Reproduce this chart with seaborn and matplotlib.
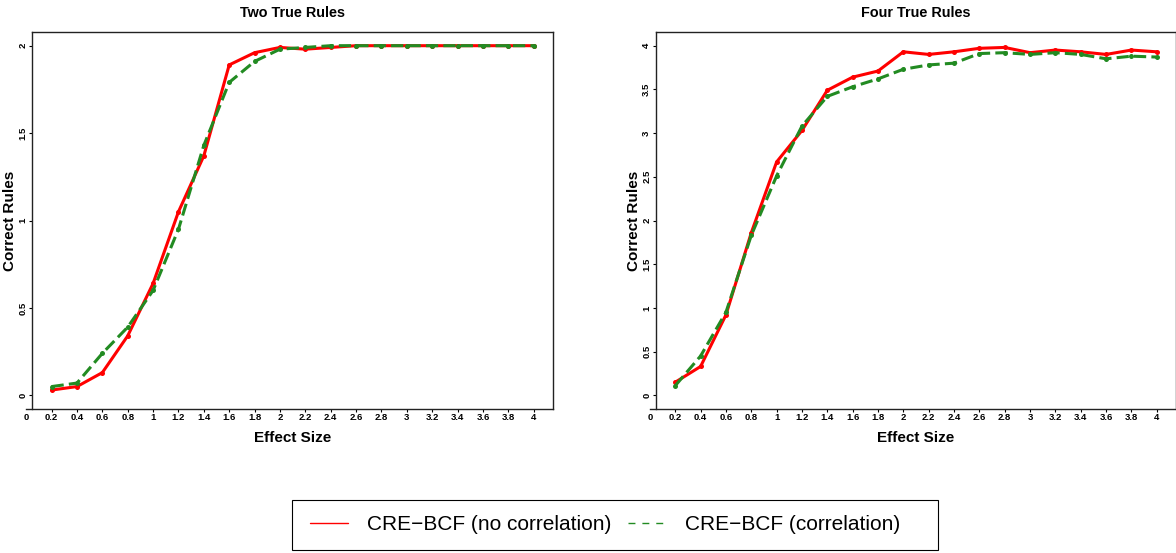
import numpy as np
import pandas as pd
import seaborn as sns
import matplotlib
matplotlib.use("Agg")
import matplotlib.pyplot as plt
from matplotlib.lines import Line2D
from matplotlib.patches import Rectangle

# ---------------- data ----------------
effect_size = [0.2, 0.4, 0.6, 0.8, 1.0, 1.2, 1.4, 1.6, 1.8, 2.0,
               2.2, 2.4, 2.6, 2.8, 3.0, 3.2, 3.4, 3.6, 3.8, 4.0]

two_no_corr = [0.03, 0.05, 0.13, 0.34, 0.64, 1.05, 1.37, 1.89, 1.96, 1.99,
               1.98, 1.99, 2.00, 2.00, 2.00, 2.00, 2.00, 2.00, 2.00, 2.00]
two_corr = [0.05, 0.07, 0.24, 0.39, 0.60, 0.95, 1.43, 1.79, 1.91, 1.98,
            1.99, 2.00, 2.00, 2.00, 2.00, 2.00, 2.00, 2.00, 2.00, 2.00]

four_no_corr = [0.15, 0.33, 0.92, 1.86, 2.67, 3.03, 3.49, 3.64, 3.71, 3.93,
                3.90, 3.93, 3.97, 3.98, 3.92, 3.95, 3.93, 3.90, 3.95, 3.93]
four_corr = [0.11, 0.45, 0.95, 1.83, 2.51, 3.08, 3.42, 3.53, 3.62, 3.73,
             3.78, 3.80, 3.91, 3.92, 3.90, 3.92, 3.90, 3.85, 3.88, 3.87]

x_tick_values = [0.0, 0.2, 0.4, 0.6, 0.8, 1.0, 1.2, 1.4, 1.6, 1.8, 2.0,
                 2.2, 2.4, 2.6, 2.8, 3.0, 3.2, 3.4, 3.6, 3.8, 4.0]
x_tick_labels = ["0", "0.2", "0.4", "0.6", "0.8", "1", "1.2", "1.4", "1.6", "1.8", "2",
                 "2.2", "2.4", "2.6", "2.8", "3", "3.2", "3.4", "3.6", "3.8", "4"]
y_ticks_two = [0, 0.5, 1, 1.5, 2]
y_labels_two = ["0", "0.5", "1", "1.5", "2"]
y_ticks_four = [0, 0.5, 1, 1.5, 2, 2.5, 3, 3.5, 4]
y_labels_four = ["0", "0.5", "1", "1.5", "2", "2.5", "3", "3.5", "4"]

titles = ["Two True Rules", "Four True Rules"]
series_labels = ["CRE\u2212BCF (no correlation)", "CRE\u2212BCF (correlation)"]

# ---------------- style ----------------
sns.set_style("white")
plt.rcParams['font.family'] = ['Liberation Sans', 'DejaVu Sans']
plt.rcParams['text.color'] = 'black'
plt.rcParams['axes.labelcolor'] = 'black'
plt.rcParams['xtick.color'] = 'black'
plt.rcParams['ytick.color'] = 'black'

RED = "#FF0000"
GREEN = "#228B22"

W, H = 1176, 553
fig = plt.figure(figsize=(W / 100, H / 100), dpi=100)
ax_bottom = (H - 409.3) / H
ax_height = 377.6 / H
ax1 = fig.add_axes([32.3 / W, ax_bottom, 520.7 / W, ax_height])
ax2 = fig.add_axes([656.0 / W, ax_bottom, 520.0 / W, ax_height])


def draw(ax, y_nc, y_c, title, yticks, ylabels, ymax):
    df = pd.DataFrame({"x": effect_size, "nc": y_nc, "c": y_c})
    sns.lineplot(data=df, x="x", y="nc", ax=ax, color=RED, linewidth=2.2,
                 marker="o", markersize=3.6, markeredgecolor=RED, mew=0)
    sns.lineplot(data=df, x="x", y="c", ax=ax, color=GREEN, linewidth=2.2,
                 marker="o", markersize=3.6, markeredgecolor=GREEN, mew=0)
    ax.lines[-1].set_linestyle((0, (4, 1.7)))

    xr = effect_size[-1] - effect_size[0]
    ax.set_xlim(effect_size[0] - 0.04 * xr, effect_size[-1] + 0.04 * xr)
    ax.set_ylim(-0.04 * ymax, ymax * 1.04)

    ax.set_xticks(x_tick_values[1:])
    ax.set_xticklabels(x_tick_labels[1:])
    ax.set_yticks(yticks)
    ax.set_yticklabels(ylabels, rotation=90, va="center")
    ax.tick_params(axis="x", length=2, width=0.8, pad=0.5, labelsize=6.8, direction="out", bottom=True)
    ax.tick_params(axis="y", length=2.5, width=0.8, pad=1.0, labelsize=6.8, direction="out", left=True)
    for lab in ax.get_xticklabels() + ax.get_yticklabels():
        lab.set_fontweight("bold")

    # "0" label of the R-style axis, just left of the plotting box
    ax.annotate(x_tick_labels[0], xy=(x_tick_values[0], 0),
                xycoords=ax.get_xaxis_transform(), xytext=(0, -2.5),
                textcoords="offset points", ha="center", va="top",
                fontsize=6.8, fontweight="bold", annotation_clip=False)

    for sp in ax.spines.values():
        sp.set_color("#222222")
        sp.set_linewidth(1.0)
    ax.spines["bottom"].set_bounds(x_tick_values[0], ax.get_xlim()[1])

    ax.set_title(title, fontsize=10.4, fontweight="bold", pad=10.5)
    ax.set_xlabel("Effect Size", fontsize=11, fontweight="bold")
    ax.set_ylabel("Correct Rules", fontsize=11, fontweight="bold")
    ax.xaxis.set_label_coords(0.5, -0.058)
    ax.yaxis.set_label_coords(-0.043, 0.5)
    ax.yaxis.label.set_va("center")


draw(ax1, two_no_corr, two_corr, titles[0], y_ticks_two, y_labels_two, 2)
draw(ax2, four_no_corr, four_corr, titles[1], y_ticks_four, y_labels_four, 4)

handles = [Line2D([], [], color=RED, lw=1.0),
           Line2D([], [], color=GREEN, lw=1.0, linestyle=(0, (5, 5)))]
leg = fig.legend(handles, series_labels, loc="center left",
                 bbox_to_anchor=(310 / W, 1 - 525 / H), ncol=2, fontsize=15,
                 frameon=False, handlelength=1.83, handletextpad=0.9,
                 columnspacing=0.82, borderpad=0, borderaxespad=0)
for t in leg.get_texts():
    t.set_color("black")

fig.patches.append(Rectangle((292 / W, 1 - 550 / H), (938 - 292) / W, 50 / H,
                             transform=fig.transFigure, fill=False,
                             edgecolor="black", linewidth=0.8))

fig.savefig("out.png", dpi=100)
